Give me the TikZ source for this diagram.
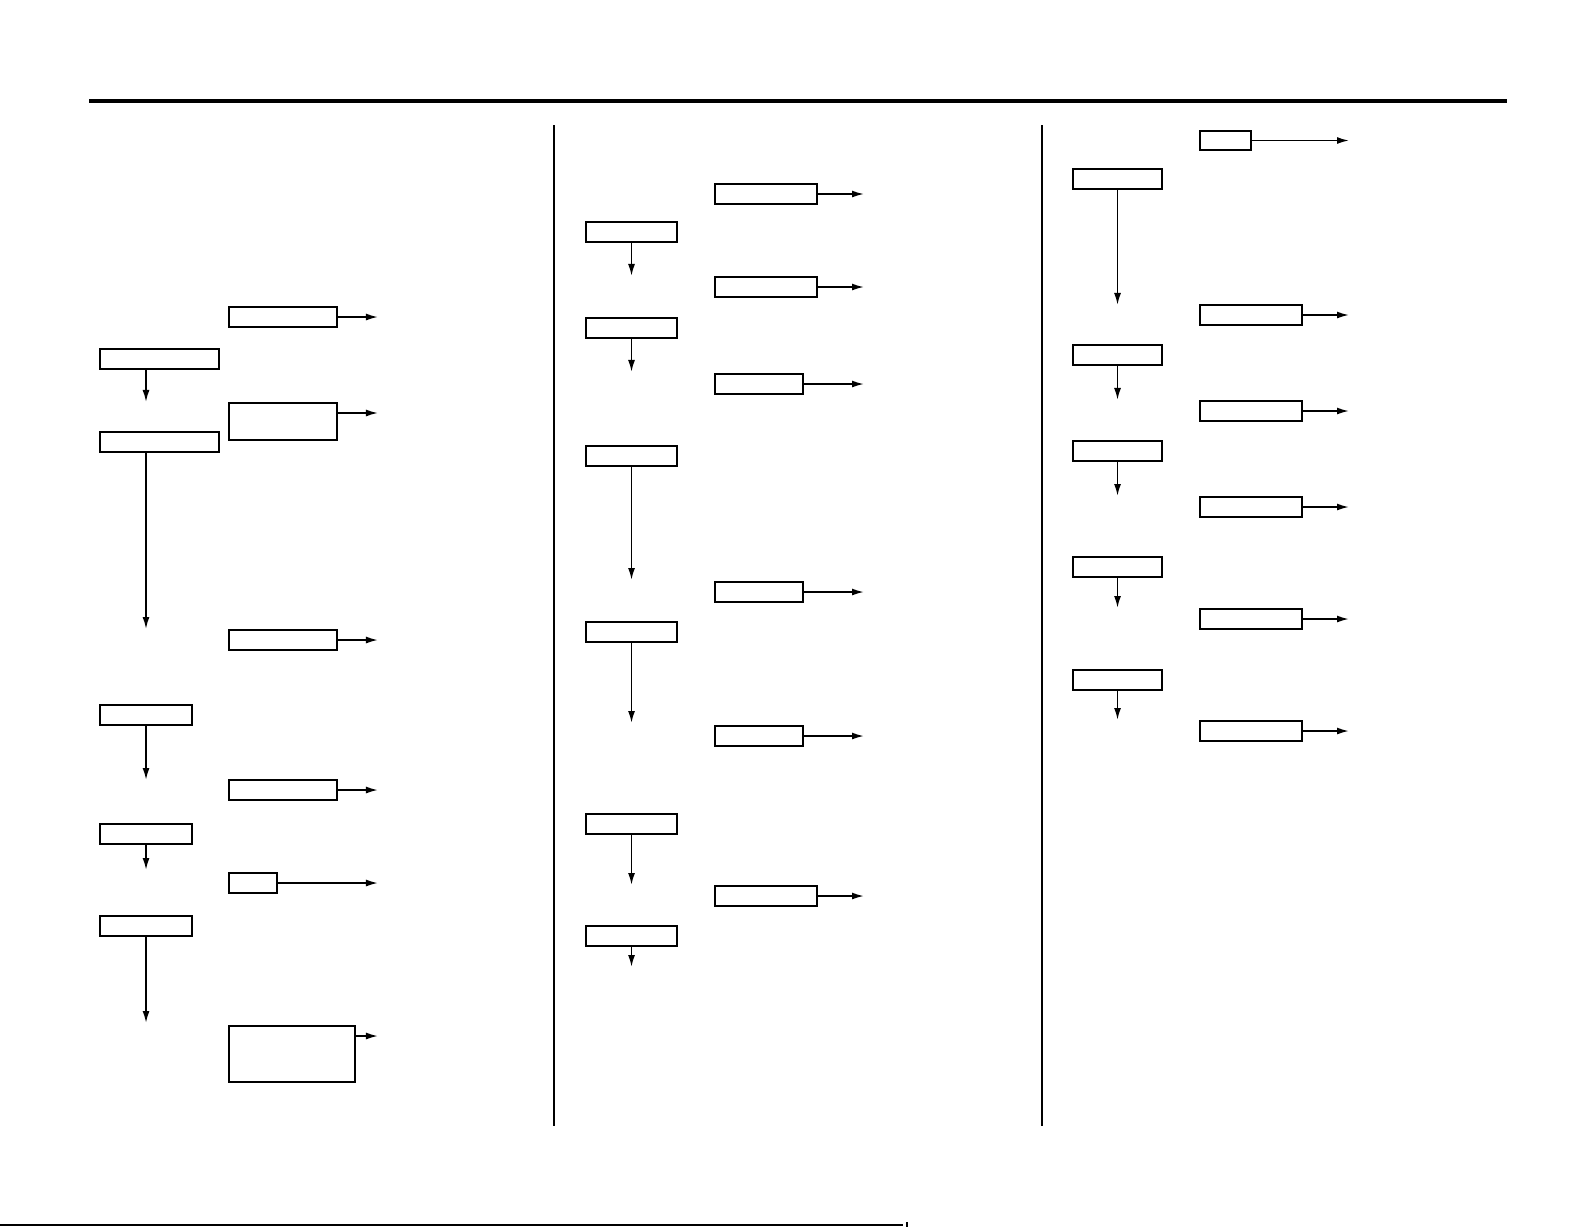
\documentclass[tikz,border=0pt]{standalone}
\usetikzlibrary{arrows.meta}

\begin{document}
\begin{tikzpicture}[x=0.01cm, y=-0.01cm,
    box/.style={draw, line width=0.5pt, inner sep=0pt, outer sep=0pt, anchor=north west, minimum height=0.2cm},
    flow/.style={line width=0.5pt, -{Latex[length=1.2mm, width=0.7mm]}},
    rule/.style={line width=1.1pt}]

    \useasboundingbox (0,0) rectangle (1591,1227);

    % Page rules
    \draw[rule] (89,101) -- (1507,101);
    \draw[line width=0.75pt] (554,125) -- (554,1126);
    \draw[line width=0.75pt] (1042,125) -- (1042,1126);
    \draw[line width=0.6pt] (0,1225) -- (903,1225);
    \draw[line width=0.3pt] (907,1222) -- (907,1227);

    % Column 1: left boxes
    \node[box, minimum width=1.19cm] (a1) at (100,349) {};
    \node[box, minimum width=1.19cm] (a2) at (100,432) {};
    \node[box, minimum width=0.92cm] (a3) at (100,705) {};
    \node[box, minimum width=0.92cm] (a4) at (100,824) {};
    \node[box, minimum width=0.92cm] (a5) at (100,916) {};
    \coordinate (da1) at (146,402);
    \coordinate (da2) at (146,629);
    \coordinate (da3) at (146,780);
    \coordinate (da4) at (146,870);
    \coordinate (da5) at (146,1023);
    \draw[flow] (da1 |- a1.south) -- (da1);
    \draw[flow] (da2 |- a2.south) -- (da2);
    \draw[flow] (a3.south) -- (a3.south |- da3);
    \draw[flow] (a4.south) -- (a4.south |- da4);
    \draw[flow] (a5.south) -- (a5.south |- da5);

    % Column 1: right boxes
    \node[box, minimum width=1.08cm] (b1) at (229,307) {};
    \node[box, minimum width=1.08cm, minimum height=0.37cm] (b2) at (229,403) {};
    \node[box, minimum width=1.08cm] (b3) at (229,630) {};
    \node[box, minimum width=1.08cm] (b4) at (229,780) {};
    \node[box, minimum width=0.48cm] (b5) at (229,873) {};
    \node[box, minimum width=1.26cm, minimum height=0.56cm] (b6) at (229,1026) {};
    \coordinate (eb1) at (378,317);
    \coordinate (eb2) at (378,413);
    \coordinate (eb3) at (378,640);
    \coordinate (eb4) at (378,790);
    \coordinate (eb5) at (378,883);
    \coordinate (eb6) at (378,1036);
    \draw[flow] (b1.east) -- (eb1 |- b1.east);
    \draw[flow] (b2.east |- eb2) -- (eb2);
    \draw[flow] (b3.east) -- (eb3 |- b3.east);
    \draw[flow] (b4.east) -- (eb4 |- b4.east);
    \draw[flow] (b5.east) -- (eb5 |- b5.east);
    \draw[flow] (b6.east |- eb6) -- (eb6);

    % Column 2: left boxes
    \node[box, minimum width=0.91cm] (c1) at (586,222) {};
    \node[box, minimum width=0.91cm] (c2) at (586,318) {};
    \node[box, minimum width=0.91cm] (c3) at (586,446) {};
    \node[box, minimum width=0.91cm] (c4) at (586,622) {};
    \node[box, minimum width=0.91cm] (c5) at (586,814) {};
    \node[box, minimum width=0.91cm] (c6) at (586,926) {};
    \coordinate (dc1) at (632,276);
    \coordinate (dc2) at (632,372);
    \coordinate (dc3) at (632,580);
    \coordinate (dc4) at (632,723);
    \coordinate (dc5) at (632,885);
    \coordinate (dc6) at (632,967);
    \draw[flow] (c1.south) -- (c1.south |- dc1);
    \draw[flow] (c2.south) -- (c2.south |- dc2);
    \draw[flow] (c3.south) -- (c3.south |- dc3);
    \draw[flow] (c4.south) -- (c4.south |- dc4);
    \draw[flow] (c5.south) -- (c5.south |- dc5);
    \draw[flow] (c6.south) -- (c6.south |- dc6);

    % Column 2: right boxes
    \node[box, minimum width=1.02cm] (e1) at (715,184) {};
    \node[box, minimum width=1.02cm] (e2) at (715,277) {};
    \node[box, minimum width=0.88cm] (e3) at (715,374) {};
    \node[box, minimum width=0.88cm] (e4) at (715,582) {};
    \node[box, minimum width=0.88cm] (e5) at (715,726) {};
    \node[box, minimum width=1.02cm] (e6) at (715,886) {};
    \coordinate (ee1) at (864,193);
    \coordinate (ee2) at (864,287);
    \coordinate (ee3) at (864,384);
    \coordinate (ee4) at (864,592);
    \coordinate (ee5) at (864,735);
    \coordinate (ee6) at (864,896);
    \draw[flow] (e1.east) -- (ee1 |- e1.east);
    \draw[flow] (e2.east) -- (ee2 |- e2.east);
    \draw[flow] (e3.east) -- (ee3 |- e3.east);
    \draw[flow] (e4.east) -- (ee4 |- e4.east);
    \draw[flow] (e5.east) -- (ee5 |- e5.east);
    \draw[flow] (e6.east) -- (ee6 |- e6.east);

    % Column 3: left boxes
    \node[box, minimum width=0.89cm] (f1) at (1073,169) {};
    \node[box, minimum width=0.89cm] (f2) at (1073,345) {};
    \node[box, minimum width=0.89cm] (f3) at (1073,441) {};
    \node[box, minimum width=0.89cm] (f4) at (1073,557) {};
    \node[box, minimum width=0.89cm] (f5) at (1073,670) {};
    \coordinate (df1) at (1117,305);
    \coordinate (df2) at (1117,400);
    \coordinate (df3) at (1117,496);
    \coordinate (df4) at (1117,608);
    \coordinate (df5) at (1117,720);
    \draw[flow] (f1.south) -- (f1.south |- df1);
    \draw[flow] (f2.south) -- (f2.south |- df2);
    \draw[flow] (f3.south) -- (f3.south |- df3);
    \draw[flow] (f4.south) -- (f4.south |- df4);
    \draw[flow] (f5.south) -- (f5.south |- df5);

    % Column 3: right boxes
    \node[box, minimum width=0.51cm, minimum height=0.19cm] (g0) at (1200,131) {};
    \node[box, minimum width=1.02cm] (g1) at (1200,305) {};
    \node[box, minimum width=1.02cm] (g2) at (1200,401) {};
    \node[box, minimum width=1.02cm] (g3) at (1200,497) {};
    \node[box, minimum width=1.02cm] (g4) at (1200,609) {};
    \node[box, minimum width=1.02cm] (g5) at (1200,721) {};
    \coordinate (eg0) at (1349,140);
    \coordinate (eg1) at (1349,316);
    \coordinate (eg2) at (1349,411);
    \coordinate (eg3) at (1349,507);
    \coordinate (eg4) at (1349,619);
    \coordinate (eg5) at (1349,732);
    \draw[flow] (g0.east) -- (eg0 |- g0.east);
    \draw[flow] (g1.east) -- (eg1 |- g1.east);
    \draw[flow] (g2.east) -- (eg2 |- g2.east);
    \draw[flow] (g3.east) -- (eg3 |- g3.east);
    \draw[flow] (g4.east) -- (eg4 |- g4.east);
    \draw[flow] (g5.east) -- (eg5 |- g5.east);
\end{tikzpicture}
\end{document}
